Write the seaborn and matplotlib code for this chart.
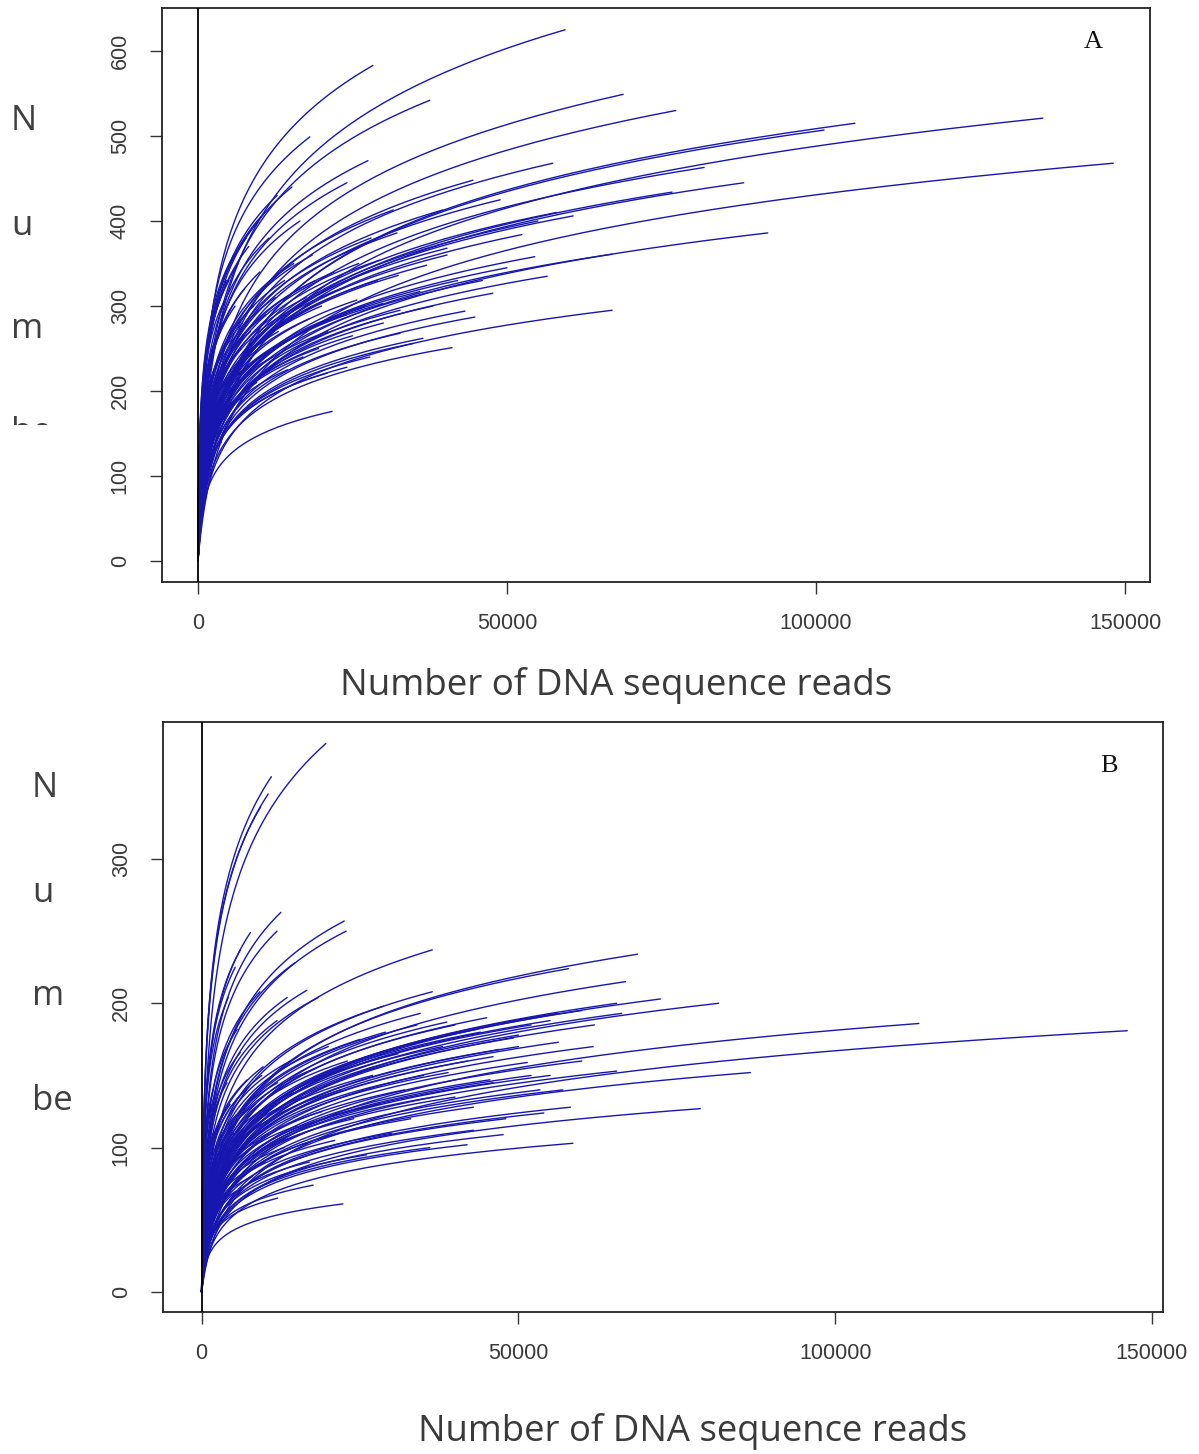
import numpy as np
import pandas as pd
import matplotlib
matplotlib.use("Agg")
import matplotlib.pyplot as plt
import seaborn as sns
from matplotlib.transforms import Bbox

# ---------------- data: end point of every rarefaction curve ----------------
# Panel A
A_READS = [59400, 28300, 37500, 68800, 77300, 106300, 101300, 136700, 148100, 81900,
           88300, 92200, 76700, 57400, 27500, 24100, 39600, 31600, 60700, 52400,
           54500, 67000, 67000, 56500, 47700, 43200, 44800, 41100, 21700, 40300,
           40300, 37000, 36400, 34800, 32400, 18100, 32700, 29900, 35900, 32200,
           29400, 25700, 32700, 27800, 24100, 20900, 13300, 48900, 44500, 50000,
           46000, 55000, 58000, 42000, 38000,
           3000, 3500, 4000, 4200, 4500, 5000, 5200, 5500, 6000, 6200,
           6500, 7000, 7200, 7500, 8000, 8200, 8500, 9000, 9500, 10000,
           10500, 11000, 11500, 12000, 12500, 13000, 14000, 14500, 15000, 15500,
           16000, 16500, 17000, 17500, 18000, 18500, 19000, 19500, 20000, 21000,
           22000, 23000, 24000, 25000, 26000, 27000, 28000, 29000, 30000, 2000,
           2500, 1500, 1200, 2800, 3800, 5800, 9800, 12800, 7800, 4600,
           10800, 15200]
A_OTUS = [625, 583, 542, 549, 530, 515, 507, 521, 468, 463,
          445, 386, 434, 468, 471, 445, 413, 413, 406, 384,
          358, 361, 295, 335, 315, 294, 287, 251, 176, 368,
          360, 348, 262, 256, 336, 499, 295, 303, 317, 386,
          354, 307, 268, 240, 228, 221, 256, 425, 448, 345,
          330, 400, 410, 330, 300,
          200, 240, 280, 305, 170, 330, 260, 220, 300, 190,
          350, 250, 280, 320, 230, 370, 270, 300, 210, 340,
          260, 290, 380, 240, 310, 270, 330, 225, 295, 350,
          265, 400, 240, 310, 285, 360, 330, 250, 300, 270,
          340, 320, 290, 265, 350, 300, 380, 330, 280, 150,
          120, 180, 110, 260, 140, 360, 400, 430, 380, 330,
          410, 440]

# Panel B
B_READS = [19600, 11000, 10500, 9300, 12500, 11900, 22500, 22800, 14700, 36400,
           68800, 66900, 36400, 18400, 28700, 57900, 65500, 66300, 56100, 56300,
           61800, 65500, 58200, 58600, 34500, 113200, 146100, 81600, 86600, 78700,
           72400, 60000, 45500, 42900, 53400, 54000, 22300, 17600, 46000, 42900,
           38900, 49200, 38700, 51400, 43500, 36500, 47600, 41900,
           40000, 45000, 50000, 55000, 60000, 62000, 47000, 52000, 57000,
           6100, 7700, 5300, 4200, 9200, 16600, 13500, 11900, 5600, 6100,
           4000, 1800, 7200, 9700, 14500,
           1000, 1200, 1500, 1800, 2000, 2200, 2500, 3000, 3200, 3500,
           4000, 4500, 5000, 5500, 6000, 6500, 7000, 7500, 8000, 8500,
           9000, 9500, 10000, 11000, 12000, 13000, 14000, 15000, 16000, 17000,
           18000, 19000, 20000, 21000, 22000, 23000, 24000, 25000, 26000, 27000,
           28000, 29000, 30000, 31000, 32000, 33000, 34000, 35000, 36000, 38000,
           40000, 42000, 44000, 46000, 48000, 50000, 52000, 55000, 12000]
B_OTUS = [380, 357, 345, 336, 263, 250, 257, 250, 228, 237,
          234, 215, 208, 204, 198, 224, 200, 193, 193, 173,
          170, 153, 128, 103, 193, 186, 181, 200, 152, 127,
          203, 160, 147, 112, 140, 124, 61, 74, 163, 128,
          152, 176, 187, 159, 182, 135, 109, 102,
          185, 190, 178, 188, 195, 185, 168, 150, 140,
          237, 249, 225, 204, 208, 209, 204, 188, 182, 166,
          145, 140, 147, 156, 138,
          60, 100, 130, 110, 75, 138, 90, 120, 60, 100,
          85, 130, 110, 70, 125, 95, 140, 115, 80, 130,
          105, 150, 90, 120, 145, 100, 160, 115, 135, 90,
          155, 125, 170, 105, 140, 160, 120, 175, 95, 150,
          130, 180, 110, 165, 140, 120, 185, 150, 100, 170,
          135, 160, 180, 145, 120, 170, 185, 150, 65]

HALF_RATIO = 0.86   # richness at half the reads / final richness (typical curve)

X_TICKS = [0, 50000, 100000, 150000]
A_Y_TICKS = [0, 100, 200, 300, 400, 500, 600]
B_Y_TICKS = [0, 100, 200, 300]
X_LABEL = "Number of DNA sequence reads"


def shape_param(r):
    lo, hi = 1e-3, 1e9
    for _ in range(200):
        mid = np.sqrt(lo * hi)
        val = np.log1p(mid / 2) / np.log1p(mid)
        if val < r:
            lo = mid
        else:
            hi = mid
    return np.sqrt(lo * hi)


U = shape_param(HALF_RATIO)
T = np.concatenate([[0.0], np.geomspace(1e-4, 1.0, 160)])


def curves(reads, otus):
    rows = []
    for i, (N, S) in enumerate(zip(reads, otus)):
        n = N * T
        s = S * np.log1p(n * U / N) / np.log1p(U)
        rows.append(pd.DataFrame({"curve": i, "reads": n, "otus": s}))
    return pd.concat(rows, ignore_index=True)


dfA = curves(A_READS, A_OTUS)
dfB = curves(B_READS, B_OTUS)

sns.set_style("white")
plt.rcParams["font.family"] = ["Liberation Sans", "DejaVu Sans"]

W, H = 1199, 1454
fig = plt.figure(figsize=(W / 100, H / 100), dpi=100)
fig.patch.set_facecolor("white")


def fx(px):
    return px / W


def fy(py):
    return 1 - py / H


axA = fig.add_axes([fx(162), fy(582), (1150 - 162) / W, (582 - 8) / H])
axB = fig.add_axes([fx(163), fy(1312), (1163 - 163) / W, (1312 - 722) / H])

LINE_COLOR = "#1717b0"
TICK_COLOR = "#3a3a3a"

for ax, df, xlim, ylim, yt in [
    (axA, dfA, (-5825, 154045), (-24.7, 650.6), A_Y_TICKS),
    (axB, dfB, (-6100, 151737), (-13.9, 394.9), B_Y_TICKS),
]:
    sns.lineplot(data=df, x="reads", y="otus", units="curve", estimator=None,
                 sort=False, color=LINE_COLOR, lw=1.0, legend=False, ax=ax)
    ax.axvline(0, color="black", lw=1.3, zorder=5)
    ax.set_xlim(*xlim)
    ax.set_ylim(*ylim)
    ax.set_xticks(X_TICKS)
    ax.set_xticklabels([str(v) for v in X_TICKS])
    ax.set_yticks(yt)
    ax.set_yticklabels([str(v) for v in yt], rotation=90, va="center")
    ax.tick_params(direction="out", length=8.5, width=1.0, color="#333333",
                   labelcolor=TICK_COLOR, labelsize=15.5, pad=14,
                   left=True, bottom=True)
    ax.set_xlabel("")
    ax.set_ylabel("")
    for sp in ax.spines.values():
        sp.set_visible(True)
        sp.set_color("#222222")
        sp.set_linewidth(1.3)

# panel letters
fig.text(fx(1093), fy(42), "A", family="Liberation Serif", fontsize=19,
         ha="center", va="center", color="#111111")
fig.text(fx(1109), fy(766), "B", family="Liberation Serif", fontsize=19,
         ha="center", va="center", color="#111111")

# x axis titles (auto-fit width)
fig.canvas.draw()
renderer = fig.canvas.get_renderer()


def fitted_text(cx, cy, s, target_w):
    t = fig.text(fx(cx), fy(cy), s, family="Open Sans", fontsize=26,
                 ha="center", va="center", color="#3a3a3a")
    w = t.get_window_extent(renderer).width
    t.set_fontsize(26 * target_w / w)
    return t


fitted_text(616, 686, X_LABEL, 553)
fitted_text(693, 1431, X_LABEL, 550)

# stacked, cut-off y axis title fragments
clipA = Bbox.from_extents(0, H - 425, 160, H)
for txt, base in [("N", 130), ("u", 235), ("m", 338), ("be", 442)]:
    t = fig.text(fx(11), fy(base), txt, family="Open Sans", fontsize=25,
                 ha="left", va="baseline", color="#404040")
    t.set_clip_box(clipA)
    t.set_clip_on(True)
for txt, base in [("N", 797), ("u", 902), ("m", 1005), ("be", 1110)]:
    fig.text(fx(32), fy(base), txt, family="Open Sans", fontsize=25,
             ha="left", va="baseline", color="#404040")

fig.savefig("out.png", dpi=100, facecolor="white")
